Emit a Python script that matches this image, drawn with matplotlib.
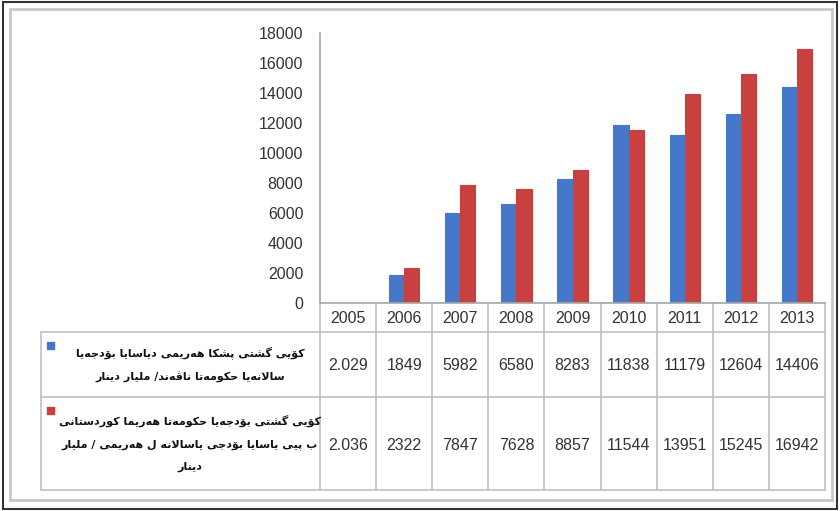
import numpy as np
import matplotlib.pyplot as plt
from matplotlib.patches import Rectangle
from matplotlib.transforms import blended_transform_factory

years = ['2005', '2006', '2007', '2008', '2009', '2010', '2011', '2012', '2013']
central = [2.029, 1849, 5982, 6580, 8283, 11838, 11179, 12604, 14406]
kurdistan = [2.036, 2322, 7847, 7628, 8857, 11544, 13951, 15245, 16942]
labels = ['کۆیێ گشتی پشکا هەرێمێ دیاسایا بۆدجەیا\nسالانەیا حکومەتا ناڤەند/ ملیار دینار',
          'کۆیێ گشتی بۆدجەیا حکومەتا هەرێما کوردستانێ\nب پێی یاسایا بۆدجێ یاسالانە ل هەرێمێ / ملیار\nدینار']
colors = ['#4677C8', '#C8413F']
yticks = np.arange(0, 18001, 2000)

# matplotlib has no arabic shaping -> pick presentation forms by hand
# letter: (isolated, final, initial, medial); two entries = joins on the right only
FORMS = {
    'ا': ('\uFE8D', '\uFE8E'), 'د': ('\uFEA9', '\uFEAA'),
    'ر': ('\uFEAD', '\uFEAE'), 'و': ('\uFEED', '\uFEEE'),
    'ۆ': ('\uFBD9', '\uFBDA'), 'ە': ('\uFEE9', '\uFEEA'),
    'ب': ('\uFE8F', '\uFE90', '\uFE91', '\uFE92'),
    'پ': ('\uFB56', '\uFB57', '\uFB58', '\uFB59'),
    'ت': ('\uFE95', '\uFE96', '\uFE97', '\uFE98'),
    'ج': ('\uFE9D', '\uFE9E', '\uFE9F', '\uFEA0'),
    'ح': ('\uFEA1', '\uFEA2', '\uFEA3', '\uFEA4'),
    'س': ('\uFEB1', '\uFEB2', '\uFEB3', '\uFEB4'),
    'ش': ('\uFEB5', '\uFEB6', '\uFEB7', '\uFEB8'),
    'ڤ': ('\uFB6A', '\uFB6B', '\uFB6C', '\uFB6D'),
    'ک': ('\uFB8E', '\uFB8F', '\uFB90', '\uFB91'),
    'گ': ('\uFB92', '\uFB93', '\uFB94', '\uFB95'),
    'ل': ('\uFEDD', '\uFEDE', '\uFEDF', '\uFEE0'),
    'م': ('\uFEE1', '\uFEE2', '\uFEE3', '\uFEE4'),
    'ن': ('\uFEE5', '\uFEE6', '\uFEE7', '\uFEE8'),
    'ه': ('\uFEE9', '\uFEEA', '\uFEEB', '\uFEEC'),
    'ی': ('\uFBFC', '\uFBFD', '\uFBFE', '\uFBFF'),
    'ێ': ('\uFBFC', '\uFBFD', '\uFBFE', '\uFBFF'),
}


def shape(line):
    out = []
    i = 0
    while i < len(line):
        c = line[i]
        if c not in FORMS:
            out.append(c)
            i += 1
            continue
        prev = line[i - 1] if i > 0 else ''
        jp = prev in FORMS and len(FORMS[prev]) == 4
        if c == 'ل' and i + 1 < len(line) and line[i + 1] == 'ا':
            out.append('\uFEFC' if jp else '\uFEFB')
            i += 2
            continue
        nxt = line[i + 1] if i + 1 < len(line) else ''
        jn = len(FORMS[c]) == 4 and nxt in FORMS
        f = FORMS[c]
        if jp and jn:
            out.append(f[3])
        elif jp:
            out.append(f[1])
        elif jn:
            out.append(f[2])
        else:
            out.append(f[0])
        i += 1
    return ''.join(out)[::-1]


plt.rcParams['font.family'] = ['Liberation Sans', 'DejaVu Sans']

fig = plt.figure(figsize=(8.4, 5.11), dpi=100)
fig.patch.set_facecolor('white')

# overlay in pixel coords for frame + table
bg = fig.add_axes([0, 0, 1, 1])
bg.set_xlim(0, 840)
bg.set_ylim(511, 0)
bg.axis('off')

ax = fig.add_axes([320 / 840, 1 - 303 / 511, 505 / 840, 270 / 511])
ax.patch.set_alpha(0)
x = np.arange(len(years))
w = 0.27
ax.bar(x - w / 2, central, w, color=colors[0], edgecolor=colors[0], linewidth=0.8)
ax.bar(x + w / 2, kurdistan, w, color=colors[1], edgecolor=colors[1], linewidth=0.8)
ax.set_xlim(-0.5, len(years) - 0.5)
ax.set_ylim(0, 18000)
ax.set_yticks(yticks)
ax.set_xticks(x, years)
ax.tick_params(axis='y', length=0, pad=12, labelsize=11.5, labelcolor='#333333')
ax.tick_params(axis='x', length=0, pad=6, labelsize=11.5, labelcolor='#333333')
for s in ['top', 'right']:
    ax.spines[s].set_visible(False)
for s in ['left', 'bottom']:
    ax.spines[s].set_color('#a6a6a6')
    ax.spines[s].set_linewidth(1.2)

# outer frames
bg.add_patch(Rectangle((3, 2), 834, 507, fill=False, ec='#333333', lw=1.5))
bg.add_patch(Rectangle((10, 9), 822, 491, fill=False, ec='#c8c8c8', lw=2))

# data table
lc = '#c0c0c0'
tr = blended_transform_factory(ax.transData, bg.transData)
for i in range(len(years) + 1):
    bg.plot([i - 0.5, i - 0.5], [303, 490], color=lc, lw=1.2, transform=tr)
for yy in [332, 397, 490]:
    bg.plot([41, 825], [yy, yy], color=lc, lw=1.2)
bg.plot([41, 41], [332, 490], color=lc, lw=1.2)

rows = [central, kurdistan]
row_y = [365, 445]
label_y = [(332 + 397) / 2, (397 + 490) / 2]
square_y = [342, 407]
for r, vals in enumerate(rows):
    for i, v in enumerate(vals):
        bg.text(i, row_y[r], '{:g}'.format(v), transform=tr, ha='center',
                va='center', fontsize=11.5, color='#333333')
    bg.add_patch(Rectangle((47, square_y[r]), 7, 7, color=colors[r]))
    txt = '\n'.join(shape(l) for l in labels[r].split('\n'))
    bg.text(190, label_y[r], txt,
            ha='center', va='center', multialignment='center',
            fontsize=8, fontweight='bold', family='DejaVu Sans',
            linespacing=2.5, color='#111111')

fig.savefig('out.png', dpi=100)
